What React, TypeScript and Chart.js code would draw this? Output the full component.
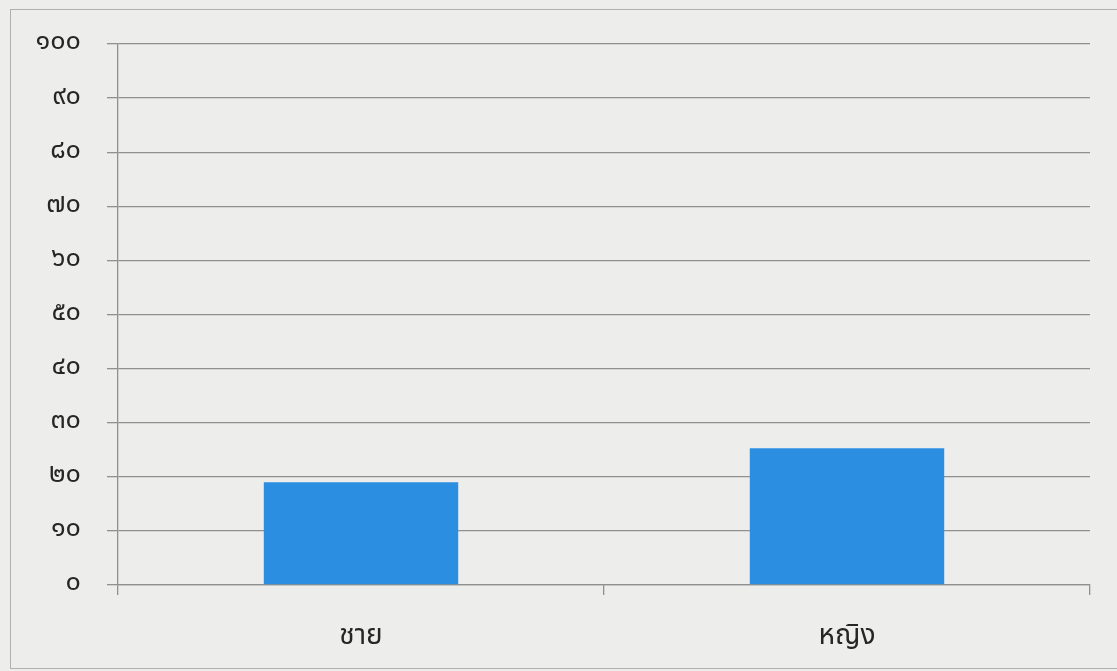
import React, { useEffect, useRef } from "react";
import { Chart, registerables } from "chart.js";

Chart.register(...registerables);

const categories: string[] = ["ชาย", "หญิง"];
const values: number[] = [19, 25.3];
const thaiDigits: string[] = ["๐", "๑", "๒", "๓", "๔", "๕", "๖", "๗", "๘", "๙"];
const toThai = (n: number): string => String(n).replace(/[0-9]/g, (d) => thaiDigits[Number(d)]);

export default function App() {
  const ref = useRef<HTMLCanvasElement | null>(null);

  useEffect(() => {
    if (!ref.current) return;
    const font = "'Noto Sans Thai', 'Noto Sans', 'DejaVu Sans', sans-serif";
    const chart = new Chart(ref.current, {
      type: "bar",
      data: {
        labels: categories,
        datasets: [
          {
            data: values,
            backgroundColor: "#2b8ee0",
            borderWidth: 0,
            barPercentage: 0.4,
            categoryPercentage: 1,
          },
        ],
      },
      options: {
        animation: false,
        responsive: false,
        maintainAspectRatio: false,
        layout: { padding: { left: 10, right: 27, top: 44, bottom: 8 } },
        plugins: { legend: { display: false }, tooltip: { enabled: false } },
        scales: {
          x: {
            grid: {
              display: true,
              drawOnChartArea: false,
              drawTicks: true,
              tickLength: 10,
              color: "#909090",
              lineWidth: 1.3,
              offset: true,
            },
            border: { display: true, color: "#909090", width: 1.3 },
            ticks: {
              color: "#262626",
              font: { family: font, size: 28 },
              padding: 27,
            },
            afterFit: (s: any) => {
              s.height = 78;
            },
          },
          y: {
            min: 0,
            max: 100,
            grid: {
              color: "#909090",
              lineWidth: 1.3,
              tickLength: 11,
            },
            border: { display: true, color: "#909090", width: 1.3 },
            ticks: {
              stepSize: 10,
              color: "#262626",
              font: { family: font, size: 27 },
              padding: 26,
              callback: (v: any) => toThai(Number(v)),
            },
            afterFit: (s: any) => {
              s.width = 108;
            },
          },
        },
      },
    });
    return () => chart.destroy();
  }, []);

  return (
    <div
      style={{
        position: "fixed",
        left: 0,
        top: 0,
        width: 1117,
        height: 671,
        background: "#ededeb",
        overflow: "hidden",
      }}
    >
      <div
        style={{
          position: "absolute",
          left: 10,
          top: 9,
          width: 1120,
          height: 658,
          border: "1px solid #b0b0ae",
        }}
      />
      <canvas ref={ref} width={1117} height={671} style={{ position: "absolute", left: 0, top: 0 }} />
    </div>
  );
}
